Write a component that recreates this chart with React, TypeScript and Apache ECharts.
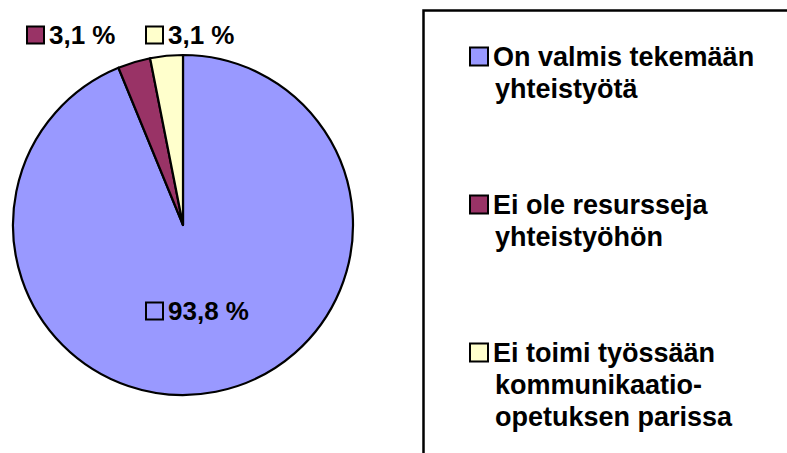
import React, { useEffect, useRef } from "react";
import * as echarts from "echarts";

const categories = [
  "On valmis tekemään\nyhteistyötä",
  "Ei ole resursseja\nyhteistyöhön",
  "Ei toimi työssään\nkommunikaatio-\nopetuksen parissa",
];
const values = [93.8, 3.1, 3.1];
const colors = ["#9999FF", "#993366", "#FFFFCC"];

const FONT = "'Liberation Sans', Arial, sans-serif";

export default function App() {
  const ref = useRef<HTMLDivElement>(null);
  useEffect(() => {
    if (!ref.current) return;
    const chart = echarts.init(ref.current, undefined, { renderer: "svg" });

    const makeSquares = (size: number) => {
      const r: Record<string, any> = {};
      colors.forEach((c, i) => {
        r["s" + i] = {
          width: size,
          height: size,
          backgroundColor: c,
          borderColor: "#000",
          borderWidth: 2,
        };
      });
      return r;
    };

    const labelPos = [
      { x: 147, y: 311 },
      { x: 28, y: 35 },
      { x: 147, y: 35 },
    ];

    chart.setOption({
      animation: false,
      graphic: [
        {
          type: "rect",
          shape: { x: 423.5, y: 10.5, width: 450, height: 500 },
          style: { fill: "none", stroke: "#000", lineWidth: 2.5 },
          silent: true,
        },
      ],
      legend: {
        orient: "vertical",
        left: 465,
        top: 43,
        padding: 0,
        itemGap: 89,
        itemWidth: 1,
        itemHeight: 1,
        icon: "rect",
        itemStyle: { opacity: 0, borderWidth: 0 },
        selectedMode: false,
        data: categories,
        formatter: (name: string) => {
          const i = categories.indexOf(name);
          const lines = name.split("\n");
          return lines
            .map((l, k) =>
              k === 0 ? `{s${i}|}{t|${l}}` : `{sp|}{t|${l}}`
            )
            .join("\n");
        },
        textStyle: {
          rich: {
            ...makeSquares(16),
            t: {
              fontFamily: FONT,
              fontWeight: "bold",
              fontSize: 27,
              lineHeight: 32,
              color: "#000",
              padding: [0, 0, 0, 6],
            },
            sp: { width: 18 },
          },
        },
      },
      series: [
        {
          type: "pie",
          center: [183, 225],
          radius: 170,
          startAngle: 90,
          clockwise: true,
          avoidLabelOverlap: false,
          itemStyle: { borderColor: "#000", borderWidth: 2.2 },
          labelLine: { show: false },
          label: {
            show: true,
            position: "outside",
            formatter: (p: any) =>
              `{s${p.dataIndex}|}{v|${p.value.toFixed(1).replace(".", ",")} %}`,
            rich: {
              ...makeSquares(15),
              v: {
                fontFamily: FONT,
                fontWeight: "bold",
                fontSize: 26,
                color: "#000",
                padding: [0, 0, 0, 6],
              },
            },
          },
          labelLayout: (p: any) => ({
            x: labelPos[p.dataIndex].x,
            y: labelPos[p.dataIndex].y,
            align: "left",
            verticalAlign: "middle",
          }),
          data: categories.map((c, i) => ({
            name: c,
            value: values[i],
            itemStyle: { color: colors[i] },
          })),
        },
      ],
    });
    return () => chart.dispose();
  }, []);
  return (
    <div
      ref={ref}
      style={{ position: "fixed", left: 0, top: 0, width: 787, height: 453, background: "#fff" }}
    />
  );
}
